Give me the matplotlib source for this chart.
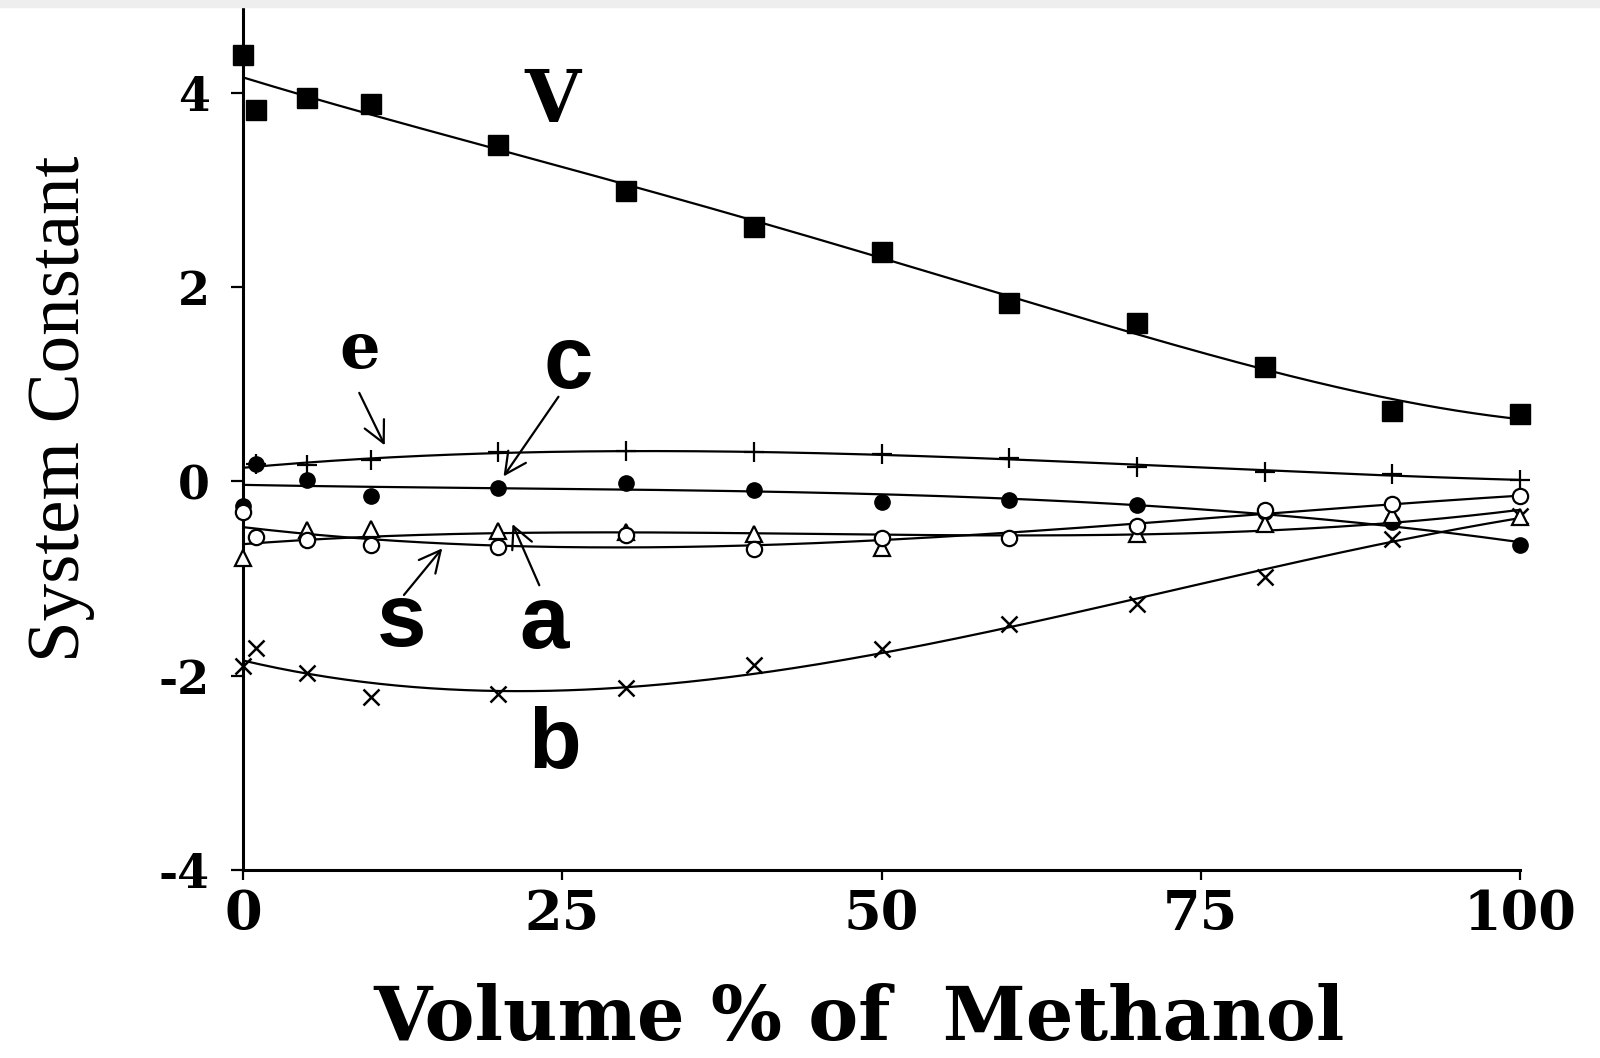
# system constants vs. methanol content (scanned figure recreation)
import numpy as np
import matplotlib.pyplot as plt
from matplotlib.patches import Rectangle

plt.rcParams['axes.unicode_minus'] = False

# data
methanol = [0, 1, 5, 10, 20, 30, 40, 50, 60, 70, 80, 90, 100]
v_const = [4.39, 3.82, 3.94, 3.88, 3.46, 2.99, 2.62, 2.36, 1.83, 1.63, 1.18, 0.72, 0.69]
e_const = [np.nan, 0.18, 0.165, 0.22, 0.30, 0.31, 0.30, 0.285, 0.24, 0.15, 0.095, 0.08, 0.01]
c_const = [-0.25, 0.18, 0.01, -0.15, -0.065, -0.02, -0.09, -0.21, -0.195, -0.24, -0.32, -0.42, -0.66]
s_const = [-0.32, -0.57, -0.60, -0.66, -0.68, -0.55, -0.70, -0.58, -0.58, -0.46, -0.30, -0.23, -0.155]
a_const = [-0.79, np.nan, -0.50, -0.49, -0.51, -0.52, -0.54, -0.69, np.nan, -0.54, -0.44, -0.35, -0.37]
b_const = [-1.90, -1.72, -1.97, -2.22, -2.19, -2.13, -1.89, -1.73, -1.47, -1.26, -0.985, -0.59, -0.36]

x_ticks = [0, 25, 50, 75, 100]
y_ticks = [-4, -2, 0, 2, 4]

fig = plt.figure(figsize=(16, 10.58), dpi=100)
ax = fig.add_axes([0.1519, 0.1777, 0.7981, 0.8147])

# light strip along the top edge of the slide
fig.patches.append(Rectangle((0, 1 - 7 / 1058), 1, 7 / 1058, transform=fig.transFigure,
                             color='#eeeeee', zorder=0))

xx = np.array(methanol, dtype=float)
xs = np.linspace(0, 100, 300)


def trend(vals, deg=3):
    yy = np.array(vals, dtype=float)
    ok = ~np.isnan(yy)
    coef = np.polyfit(xx[ok], yy[ok], deg)
    return np.polyval(coef, xs)


lw = 1.6
ax.plot(xs, trend(v_const, 4), color='black', lw=lw, zorder=2)
for vals in [e_const, c_const, s_const, a_const, b_const]:
    ax.plot(xs, trend(vals), color='black', lw=lw, zorder=2)

ax.plot(methanol, v_const, 's', color='black', ms=14, zorder=3, clip_on=False)
ax.plot(methanol, e_const, '+', color='black', ms=14, mew=1.6, zorder=3, clip_on=False)
ax.plot(methanol, c_const, 'o', color='black', ms=11, zorder=3, clip_on=False)
ax.plot(methanol, a_const, '^', mfc='white', mec='black', ms=11, mew=1.6, zorder=4, clip_on=False)
ax.plot(methanol, s_const, 'o', mfc='white', mec='black', ms=11, mew=1.6, zorder=5, clip_on=False)
ax.plot(methanol, b_const, 'x', color='black', ms=12, mew=1.8, zorder=3, clip_on=False)

# curve labels
serif_b = dict(family='DejaVu Serif', fontweight='bold', color='black')
sans_b = dict(family='Liberation Sans', fontweight='bold', color='black')
ax.text(24.2, 3.70, 'V', fontsize=52, ha='center', va='baseline', **serif_b)
ax.text(9.1, 1.17, 'e', fontsize=46, ha='center', va='baseline', **serif_b)
ax.text(25.5, 0.96, 'c', fontsize=64, ha='center', va='baseline', **sans_b)
ax.text(12.4, -1.69, 's', fontsize=64, ha='center', va='baseline', **sans_b)
ax.text(23.6, -1.72, 'a', fontsize=64, ha='center', va='baseline', **sans_b)
ax.text(24.4, -2.95, 'b', fontsize=62, ha='center', va='baseline', **sans_b)

arrow = dict(arrowstyle='->,head_length=0.7,head_width=0.35', color='black', lw=1.6,
             mutation_scale=22, shrinkA=0, shrinkB=0)
ax.annotate('', xy=(11.1, 0.37), xytext=(9.1, 0.91), arrowprops=arrow)
ax.annotate('', xy=(20.4, 0.05), xytext=(24.7, 0.87), arrowprops=arrow)
ax.annotate('', xy=(15.6, -0.69), xytext=(12.6, -1.17), arrowprops=arrow)
ax.annotate('', xy=(21.1, -0.44), xytext=(23.2, -1.07), arrowprops=arrow)

ax.set_xlim(0, 100)
ax.set_ylim(-4, 4.87)
ax.set_xticks(x_ticks)
ax.set_yticks(y_ticks)
ax.set_xticklabels([str(t) for t in x_ticks], family='DejaVu Serif', fontweight='bold', fontsize=39)
ax.set_yticklabels([str(t) for t in y_ticks], family='DejaVu Serif', fontweight='bold', fontsize=33)
ax.tick_params(axis='x', direction='out', length=7, width=1.6, pad=7)
ax.tick_params(axis='y', direction='out', length=9, width=1.6, pad=15)

for side in ['top', 'right']:
    ax.spines[side].set_visible(False)
for side in ['left', 'bottom']:
    ax.spines[side].set_linewidth(2.2)

fig.text(0.537, 0.002, 'Volume % of  Methanol', family='DejaVu Serif', fontweight='bold',
         fontsize=54, ha='center', va='bottom')
fig.text(0.038, 0.614, 'System Constant', family='Liberation Serif', fontsize=54,
         rotation=90, ha='center', va='center')

fig.savefig('out.png', dpi=100, facecolor='white')
